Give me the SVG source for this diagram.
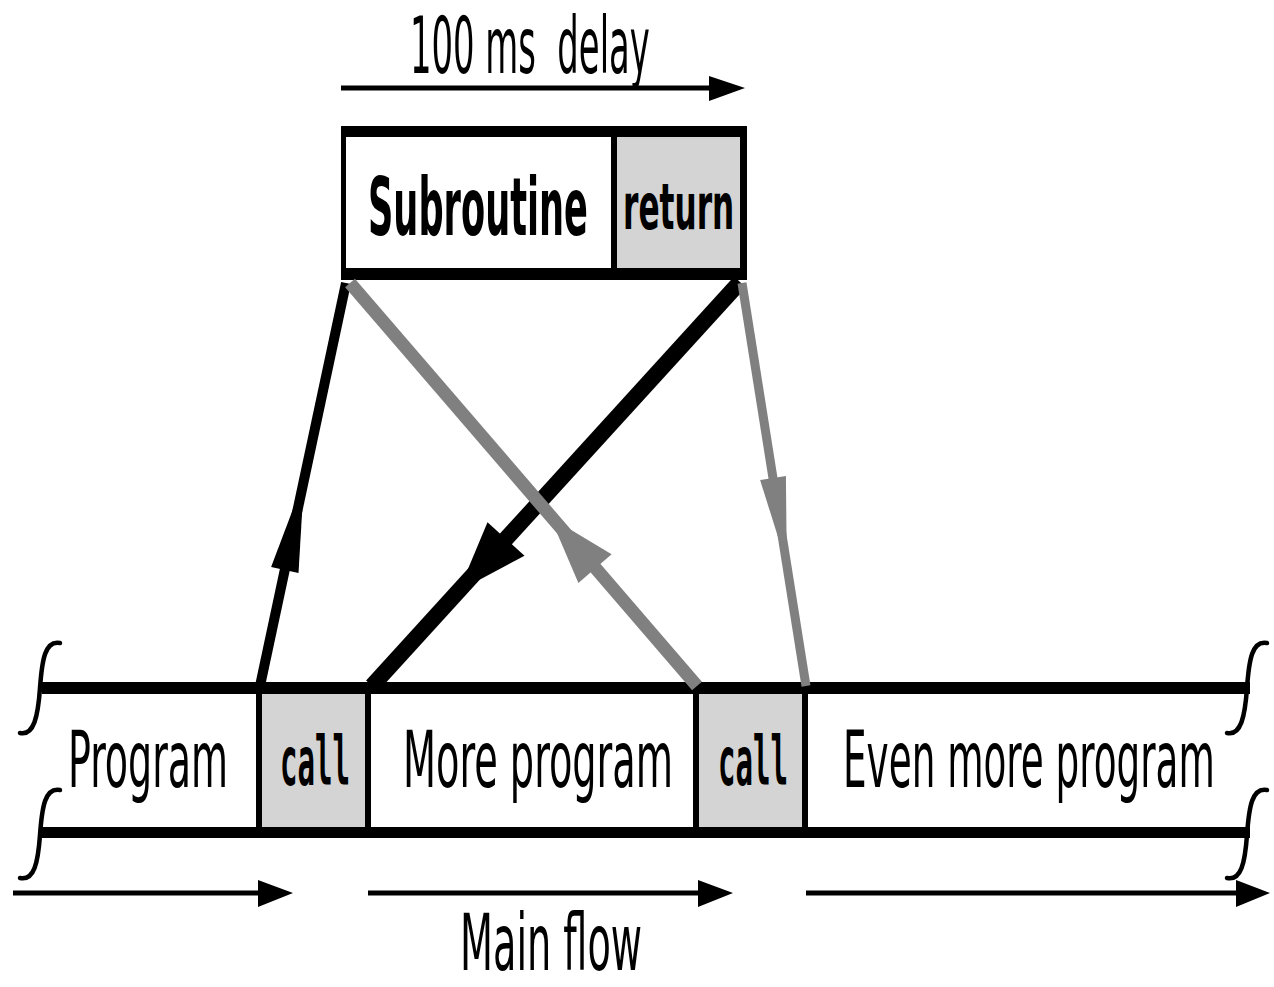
<svg xmlns="http://www.w3.org/2000/svg" width="1274" height="987" viewBox="0 0 1274 987">
<style>
.t{font-family:"DejaVu Sans Condensed","Liberation Sans",sans-serif;font-size:78px;fill:#000}
.b{font-family:"DejaVu Sans Condensed","Liberation Sans",sans-serif;font-weight:bold;fill:#000}
.m{font-family:"DejaVu Sans Mono","Liberation Mono",monospace;font-weight:bold;font-size:68px;fill:#000}
.k{fill:#000}
.g{fill:#d4d4d4}
.sq{fill:none;stroke:#000;stroke-width:4.5;stroke-linecap:round}
.ln{stroke:#000;stroke-width:5;fill:none}
</style>
<rect width="1274" height="987" fill="#fff"/>
<g id="delay">
<text class="t" transform="translate(410,73) scale(0.55,1)" x="0" y="0" xml:space="preserve" textLength="436" lengthAdjust="spacingAndGlyphs">100 ms  delay</text>
<line class="ln" x1="341" y1="88" x2="712" y2="88"/>
<polygon class="k" points="745,88 709,76 709,101"/>
</g>
<g id="subroutine">
<rect x="341" y="127" width="272" height="152" fill="#fff"/>
<rect class="g" x="613" y="127" width="132" height="152"/>
<rect class="k" x="341" y="126" width="406" height="11"/>
<rect class="k" x="341" y="268" width="406" height="12"/>
<rect class="k" x="341" y="126" width="5" height="154"/>
<rect class="k" x="740" y="126" width="7" height="154"/>
<rect class="k" x="611" y="126" width="6" height="154"/>
<text class="b" transform="translate(368,235) scale(0.5,1)" x="0" y="0" font-size="80" textLength="440" lengthAdjust="spacingAndGlyphs">Subroutine</text>
<text class="b" transform="translate(623,229) scale(0.54,1)" x="0" y="0" font-size="64" textLength="206" lengthAdjust="spacingAndGlyphs">return</text>
</g>
<g id="band">
<rect class="g" x="259" y="688" width="109" height="144"/>
<rect class="g" x="696" y="688" width="109" height="144"/>
<rect class="k" x="42" y="682" width="1208" height="12"/>
<rect class="k" x="42" y="827" width="1208" height="11"/>
<rect class="k" x="256" y="682" width="6" height="156"/>
<rect class="k" x="365" y="682" width="6" height="156"/>
<rect class="k" x="693" y="682" width="6" height="156"/>
<rect class="k" x="802" y="682" width="6" height="156"/>
<path class="sq" d="M60,643 C45,640 42,660 40,688 C38,716 34,736 20,733"/>
<path class="sq" d="M60,790 C45,787 42,807 40,835 C38,863 34,881 20,878"/>
<path class="sq" d="M1267,643 C1252,640 1249,660 1247,688 C1245,716 1241,736 1227,733"/>
<path class="sq" d="M1267,790 C1252,787 1249,807 1247,835 C1245,863 1241,881 1227,878"/>
</g>
<g id="program"><text class="t" transform="translate(68,787) scale(0.55,1)" x="0" y="0" textLength="291" lengthAdjust="spacingAndGlyphs">Program</text></g>
<g id="call1"><text class="m" transform="translate(280,785) scale(0.43,1)" x="0" y="0" textLength="163" lengthAdjust="spacingAndGlyphs">call</text></g>
<g id="more-program"><text class="t" transform="translate(403,787) scale(0.55,1)" x="0" y="0" textLength="491" lengthAdjust="spacingAndGlyphs">More program</text></g>
<g id="call2"><text class="m" transform="translate(718,785) scale(0.43,1)" x="0" y="0" textLength="163" lengthAdjust="spacingAndGlyphs">call</text></g>
<g id="even-more-program"><text class="t" transform="translate(843,787) scale(0.55,1)" x="0" y="0" textLength="676" lengthAdjust="spacingAndGlyphs">Even more program</text></g>
<g id="main-flow">
<line class="ln" x1="13" y1="893" x2="262" y2="893"/>
<polygon class="k" points="293,893 258,880 258,907"/>
<line class="ln" x1="368" y1="893" x2="702" y2="893"/>
<polygon class="k" points="733,893 698,880 698,907"/>
<line class="ln" x1="806" y1="893" x2="1240" y2="893"/>
<polygon class="k" points="1270,893 1236,880 1236,907"/>
<text class="t" transform="translate(460,970) scale(0.55,1)" x="0" y="0" font-size="72" textLength="331" lengthAdjust="spacingAndGlyphs">Main flow</text>
</g>
<g id="connectors">
<line x1="260" y1="686" x2="346" y2="283" stroke="#000" stroke-width="10"/>
<polygon class="k" points="304,480 298.5,573 271.1,567"/>
<line x1="740" y1="282" x2="372" y2="686" stroke="#000" stroke-width="16"/>
<polygon class="k" points="458.9,590.7 524.5,555.8 487.5,522.2"/>
<line x1="697" y1="686" x2="350" y2="283" stroke="#808080" stroke-width="13"/>
<polygon fill="#808080" points="550.4,517.4 611.6,554.3 578.4,583.1"/>
<line x1="742" y1="283" x2="806" y2="686" stroke="#808080" stroke-width="9"/>
<polygon fill="#808080" points="786.8,564.9 785.9,476 760.1,480"/>
</g>
</svg>
